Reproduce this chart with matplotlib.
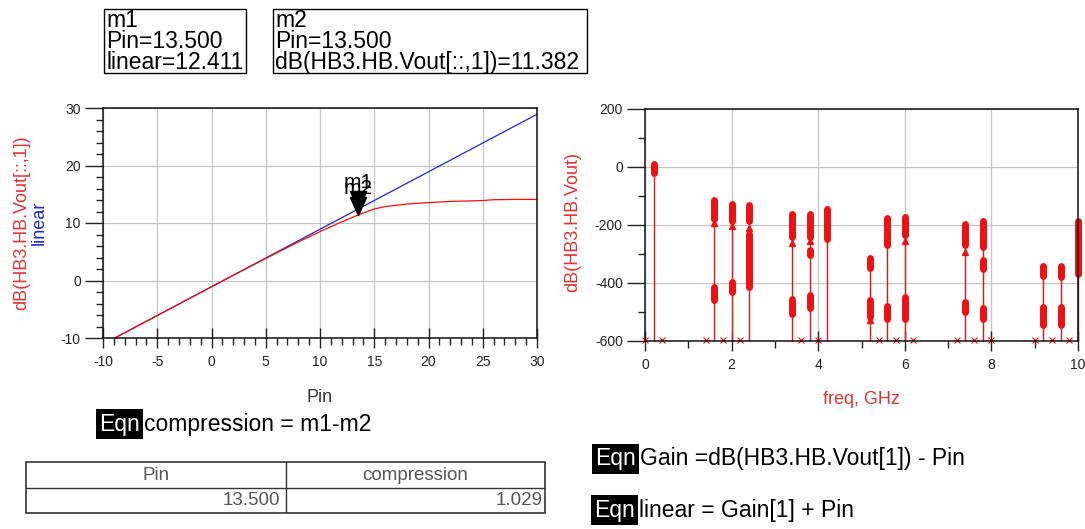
import numpy as np
import matplotlib
matplotlib.use("Agg")
import matplotlib.pyplot as plt
from matplotlib.ticker import MultipleLocator
from matplotlib.patches import Rectangle

plt.rcParams['font.family'] = ['Liberation Sans', 'DejaVu Sans']
plt.rcParams['axes.unicode_minus'] = False

# ---- left plot: Pin sweep ----
pin = [-10, -5, 0, 2, 4, 6, 8, 10, 12, 13.5, 15, 16, 18, 20, 22, 24, 25, 26, 28, 30]
vout_db = [-11.09, -6.09, -1.09, 0.9, 2.85, 4.8, 6.7, 8.5, 10.2, 11.382,
           12.45, 12.85, 13.3, 13.55, 13.75, 13.85, 13.9, 14.05, 14.1, 14.1]
pin_lin = [-10, 30]
linear = [-11.089, 28.911]

mk_pin = 13.5
m1_val = 12.411
m2_val = 11.382
compression = 1.029

# ---- right plot: spectrum (clusters of points per harmonic, dB) ----
seg_freq = [0.2, 1.6, 1.6, 2.0, 2.0, 2.4, 2.4, 3.4, 3.4, 3.8, 3.8, 3.8, 4.2,
            5.2, 5.2, 5.6, 5.6, 6.0, 6.0, 7.4, 7.4, 7.8, 7.8, 7.8,
            9.2, 9.2, 9.6, 9.6, 10.0]
seg_lo = [-22, -178, -460, -186, -431, -186, -414, -241, -506, -241, -305, -485, -249,
          -348, -517, -270, -524, -235, -524, -270, -500, -276, -352, -524,
          -375, -545, -379, -545, -368]
seg_hi = [12, -113, -414, -126, -397, -130, -230, -163, -454, -161, -285, -443, -146,
          -313, -460, -175, -478, -172, -448, -195, -466, -187, -321, -485,
          -340, -482, -343, -482, -186]
tri_freq = [1.6, 1.6, 2.0, 2.4, 3.4, 3.8, 3.8, 5.2, 6.0, 7.4, 7.8, 10.0]
tri_val = [-192, -170, -204, -209, -262, -255, -228, -529, -256, -293, -265, -225]
floor_freq = [0, 0.4, 1.4, 1.8, 2.2, 3.6, 4.0, 5.4, 5.8, 6.2, 7.2, 7.6, 8.0, 9.0, 9.4, 9.8]
floor_db = -600

RED = '#ee1111'
RED_LBL = '#dd3333'
BLUE = '#2222cc'
GRID = '#c4c4c4'
TXT = '#222222'

W, H = 1085, 529
fig = plt.figure(figsize=(W / 100, H / 100), dpi=100)

# left axes
ax1 = fig.add_axes([103 / W, 1 - 338 / H, 434 / W, 230 / H])
ax1.plot(pin_lin, linear, color=BLUE, lw=0.9)
ax1.plot(pin, vout_db, color=RED, lw=0.9)
ax1.set_xlim(-10, 30)
ax1.set_ylim(-10, 30)
ax1.xaxis.set_major_locator(MultipleLocator(5))
ax1.xaxis.set_minor_locator(MultipleLocator(1))
ax1.yaxis.set_major_locator(MultipleLocator(10))
ax1.yaxis.set_minor_locator(MultipleLocator(2))
ax1.grid(True, which='major', color=GRID, lw=0.9)
ax1.set_axisbelow(True)

tri = [(0, 0), (-0.45, 1), (0.45, 1), (0, 0)]
ax1.plot([mk_pin, mk_pin], [m1_val, m2_val], ls='none', marker=tri, ms=26, color='k')
ax1.annotate('m1', (mk_pin, m1_val), xytext=(0, 17), textcoords='offset pixels',
             ha='center', va='bottom', fontsize=15, color='k')
ax1.annotate('m2', (mk_pin, m2_val), xytext=(0, 17), textcoords='offset pixels',
             ha='center', va='bottom', fontsize=15, color='k')

# right axes
ax2 = fig.add_axes([645 / W, 1 - 341 / H, 433 / W, 232 / H])
stem_top = {}
for f, hi in zip(seg_freq, seg_hi):
    stem_top[f] = max(hi, stem_top.get(f, floor_db))
ax2.vlines(list(stem_top.keys()), floor_db, list(stem_top.values()),
           color=RED, lw=1.0, clip_on=False)
ax2.vlines(seg_freq, seg_lo, seg_hi, color=RED, lw=5, capstyle='round', clip_on=False)
ax2.plot(tri_freq, tri_val, '^', color=RED, ms=4, ls='none', clip_on=False)
ax2.plot(floor_freq, np.full(len(floor_freq), floor_db) + 3, 'x', color=RED,
         ms=4, mew=0.8, ls='none', clip_on=False)
ax2.set_xlim(0, 10)
ax2.set_ylim(-600, 200)
ax2.xaxis.set_major_locator(MultipleLocator(2))
ax2.xaxis.set_minor_locator(MultipleLocator(1))
ax2.yaxis.set_major_locator(MultipleLocator(200))
ax2.yaxis.set_minor_locator(MultipleLocator(100))
ax2.grid(True, which='major', color=GRID, lw=0.9)
ax2.set_axisbelow(True)

for ax in (ax1, ax2):
    for s in ax.spines.values():
        s.set_color('#111111')
        s.set_linewidth(1.1)
    ax.tick_params(axis='x', which='major', direction='inout', length=14, width=1,
                   pad=5, labelsize=10, labelcolor=TXT, color='#222222')
    ax.tick_params(axis='x', which='minor', direction='out', length=5, width=1, color='#222222')
    ax.tick_params(axis='y', which='major', direction='out', length=13, width=1,
                   pad=3, labelsize=10, labelcolor=TXT, color='#222222')
    ax.tick_params(axis='y', which='minor', direction='out', length=5, width=1, color='#222222')

# axis labels
fig.text(22 / W, 1 - 223 / H, 'dB(HB3.HB.Vout[::,1])', rotation=90, color=RED_LBL,
         ha='center', va='center', fontsize=13)
fig.text(39 / W, 1 - 223 / H, 'linear', rotation=90, color=BLUE,
         ha='center', va='center', fontsize=13)
fig.text(573 / W, 1 - 222 / H, 'dB(HB3.HB.Vout)', rotation=90, color=RED_LBL,
         ha='center', va='center', fontsize=13)
fig.text(320 / W, 1 - 398 / H, 'Pin', color='#333333', ha='center', va='center', fontsize=13)
fig.text(861 / W, 1 - 400 / H, 'freq, GHz', color=RED_LBL, ha='center', va='center', fontsize=13)

# marker readout boxes
fig.add_artist(Rectangle((104 / W, 1 - 73 / H), 142 / W, 64 / H, transform=fig.transFigure,
                         fill=False, edgecolor='k', lw=1))
fig.add_artist(Rectangle((273 / W, 1 - 73 / H), 314 / W, 64 / H, transform=fig.transFigure,
                         fill=False, edgecolor='k', lw=1))
fig.text(106 / W, 1 - 9 / H, f'm1\nPin={mk_pin:.3f}\nlinear={m1_val:.3f}',
         va='top', ha='left', fontsize=16.5, linespacing=0.9)
fig.text(275 / W, 1 - 9 / H, f'm2\nPin={mk_pin:.3f}\ndB(HB3.HB.Vout[::,1])={m2_val:.3f}',
         va='top', ha='left', fontsize=16.5, linespacing=0.9)


def eqn(x, y, s):
    fig.text((x + 2) / W, 1 - y / H, 'Eqn', color='white', fontsize=16.5, va='center', ha='left',
             bbox=dict(facecolor='black', edgecolor='none', boxstyle='square,pad=0.15'))
    fig.text((x + 47) / W, 1 - y / H, s, color='black', fontsize=16.5, va='center', ha='left')


eqn(97, 424, 'compression = m1-m2')
eqn(593, 459, 'Gain =dB(HB3.HB.Vout[1]) - Pin')
eqn(592, 510, 'linear = Gain[1] + Pin')

# results table
ax3 = fig.add_axes([26 / W, 1 - 513 / H, 519 / W, 51 / H])
ax3.set_xlim(0, 1)
ax3.set_ylim(0, 1)
ax3.axis('off')
ax3.add_patch(Rectangle((0, 0), 1, 1, fill=False, edgecolor='#333333', lw=1.2, clip_on=False))
ax3.plot([0, 1], [0.49, 0.49], color='#333333', lw=1)
ax3.plot([0.501, 0.501], [0, 1], color='#333333', lw=1)
ax3.text(0.25, 0.74, 'Pin', ha='center', va='center', fontsize=13.5, color='#555555')
ax3.text(0.75, 0.74, 'compression', ha='center', va='center', fontsize=13.5, color='#555555')
ax3.text(0.49, 0.24, f'{mk_pin:.3f}', ha='right', va='center', fontsize=13.5, color='#555555')
ax3.text(0.995, 0.24, f'{compression:.3f}', ha='right', va='center', fontsize=13.5, color='#555555')

fig.savefig('out.png', dpi=100)
